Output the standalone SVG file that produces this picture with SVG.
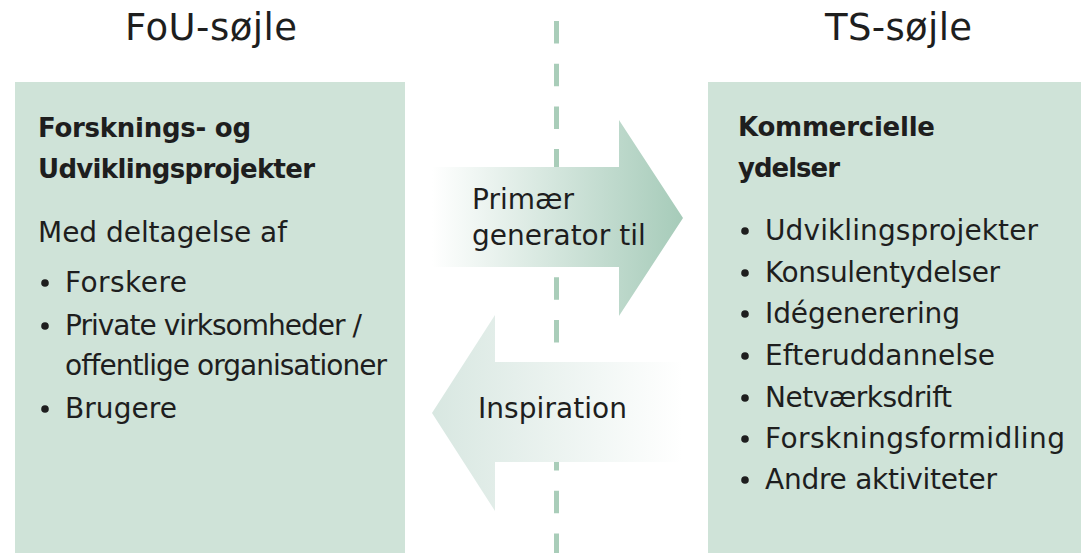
<svg xmlns="http://www.w3.org/2000/svg" width="1081" height="553" viewBox="0 0 1081 553">
<style>
.t{font-family:"DejaVu Sans","Liberation Sans",sans-serif;fill:#1e1e1e;font-size:28px}
.h{font-weight:bold;font-size:26px}
.title{font-size:37px}
.box{fill:#cfe3d8}
.dot{fill:#1e1e1e}
</style>
<defs>
<linearGradient id="gR" gradientUnits="userSpaceOnUse" x1="432" y1="0" x2="683" y2="0">
<stop offset="0" stop-color="#ffffff"/>
<stop offset="1" stop-color="#a6cbb9"/>
</linearGradient>
<linearGradient id="gL" gradientUnits="userSpaceOnUse" x1="432" y1="0" x2="682" y2="0">
<stop offset="0" stop-color="#d8e7e1"/>
<stop offset="1" stop-color="#ffffff"/>
</linearGradient>
</defs>
<rect width="1081" height="553" fill="#ffffff"/>
<text class="t title" x="125" y="40" textLength="172">FoU-søjle</text>
<text class="t title" x="825" y="40" textLength="147">TS-søjle</text>
<g id="divider">
<line x1="556.5" y1="21" x2="556.5" y2="553" stroke="#a9cdb9" stroke-width="5" stroke-dasharray="22.5 20.2"/>
</g>
<g id="fou">
<rect class="box" x="15" y="82" width="390" height="471"/>
<text class="t h" x="38" y="137" textLength="213">Forsknings- og</text>
<text class="t h" x="38" y="178" textLength="277">Udviklingsprojekter</text>
<text class="t" x="38" y="242" textLength="249">Med deltagelse af</text>
<circle class="dot" cx="45" cy="283" r="3.8"/>
<text class="t" x="65" y="292" textLength="122">Forskere</text>
<circle class="dot" cx="45" cy="326" r="3.8"/>
<text class="t" x="65" y="335" textLength="297">Private virksomheder /</text>
<text class="t" x="65" y="375" textLength="322">offentlige organisationer</text>
<circle class="dot" cx="45" cy="409" r="3.8"/>
<text class="t" x="65" y="418" textLength="112">Brugere</text>
</g>
<g id="ts">
<rect class="box" x="708" y="82" width="373" height="471"/>
<text class="t h" x="738" y="136" textLength="197">Kommercielle</text>
<text class="t h" x="738" y="177" textLength="102">ydelser</text>
<circle class="dot" cx="745" cy="231" r="3.8"/>
<text class="t" x="765" y="240" textLength="273">Udviklingsprojekter</text>
<circle class="dot" cx="745" cy="273" r="3.8"/>
<text class="t" x="765" y="282" textLength="235">Konsulentydelser</text>
<circle class="dot" cx="745" cy="314" r="3.8"/>
<text class="t" x="765" y="323" textLength="195">Idégenerering</text>
<circle class="dot" cx="745" cy="356" r="3.8"/>
<text class="t" x="765" y="365" textLength="230">Efteruddannelse</text>
<circle class="dot" cx="745" cy="398" r="3.8"/>
<text class="t" x="765" y="407" textLength="187">Netværksdrift</text>
<circle class="dot" cx="745" cy="439" r="3.8"/>
<text class="t" x="765" y="448" textLength="300">Forskningsformidling</text>
<circle class="dot" cx="745" cy="480" r="3.8"/>
<text class="t" x="765" y="489" textLength="232">Andre aktiviteter</text>
</g>
<g id="connectors">
<g id="arrow-primaer">
<polygon points="432,167 619,167 619,120 683,218 619,316 619,267 432,267" fill="url(#gR)"/>
<text class="t" x="472" y="209">Primær</text>
<text class="t" x="472" y="245">generator til</text>
</g>
<g id="arrow-inspiration">
<polygon points="682,362 495,362 495,315 432,413 495,511 495,462 682,462" fill="url(#gL)"/>
<text class="t" x="478" y="418" textLength="149">Inspiration</text>
</g>
</g>
</svg>
